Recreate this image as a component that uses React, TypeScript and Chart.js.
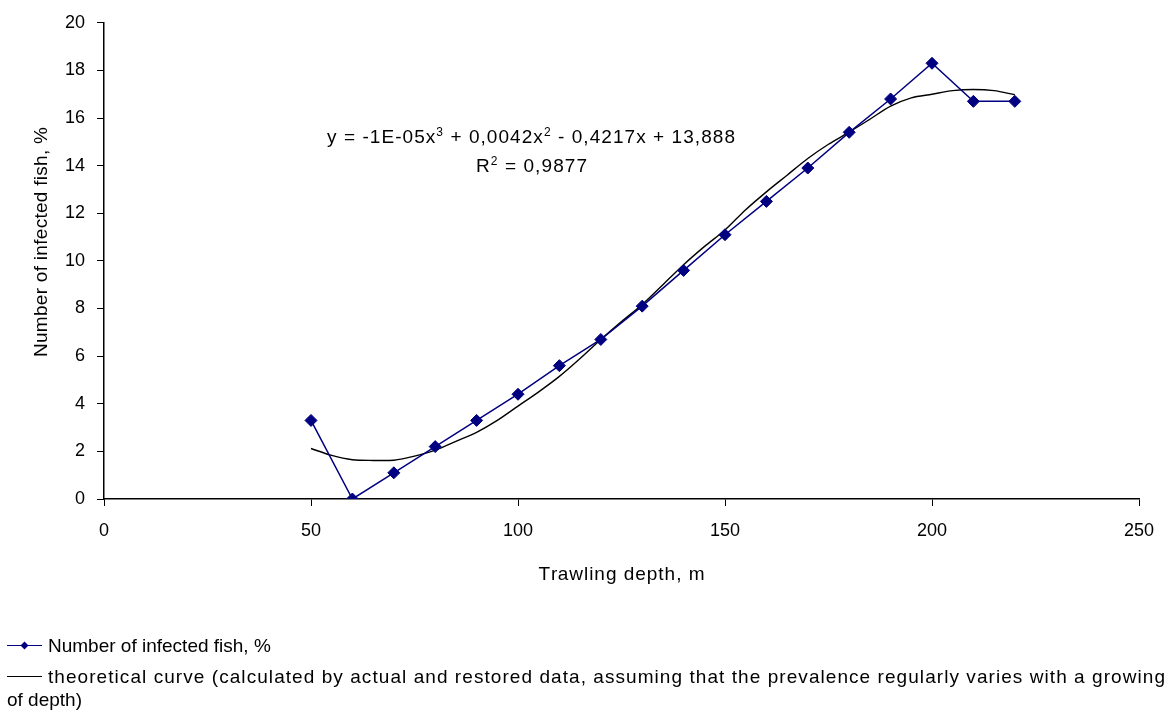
import React, { useEffect, useRef } from "react";
import { Chart, registerables } from "chart.js";

Chart.register(...registerables);

const depths = [50, 60, 70, 80, 90, 100, 110, 120, 130, 140, 150, 160, 170, 180, 190, 200, 210, 220];
const infected = [3.3, 0, 1.1, 2.2, 3.3, 4.4, 5.6, 6.7, 8.1, 9.6, 11.1, 12.5, 13.9, 15.4, 16.8, 18.3, 16.7, 16.7];

const curveDepths = [50, 55, 60, 65, 70, 75, 80, 85, 90, 95, 100, 105, 110, 115, 120, 125, 130, 135, 140, 145, 150, 155, 160, 165, 170, 175, 180, 185, 190, 195, 200, 205, 210, 215, 220];
const curveValues = [2.12, 1.83, 1.65, 1.62, 1.63, 1.8, 2.05, 2.42, 2.8, 3.3, 3.9, 4.5, 5.15, 5.9, 6.7, 7.45, 8.17, 9.0, 9.84, 10.6, 11.3, 12.15, 12.9, 13.6, 14.3, 14.9, 15.41, 15.95, 16.5, 16.85, 17.0, 17.15, 17.2, 17.15, 16.98];

const xTicks = [0, 50, 100, 150, 200, 250];
const yTicks = [0, 2, 4, 6, 8, 10, 12, 14, 16, 18, 20];

const seriesLabel = "Number of infected fish, %";
const curveLabelLine1 = "theoretical curve (calculated by actual and restored data, assuming that the prevalence regularly varies with a growing";
const curveLabelLine2 = "of depth)";
const xTitle = "Trawling depth, m";
const yTitle = "Number of infected fish, %";

const FONT = "'Liberation Sans', Arial, sans-serif";
const NAVY = "#000080";
const BIG = `19px ${FONT}`;
const SMALL = `12px ${FONT}`;

type Seg = { t: string; sup?: boolean };
const eqLine1: Seg[] = [
  { t: "y = -1E-05x" }, { t: "3", sup: true }, { t: " + 0,0042x" }, { t: "2", sup: true }, { t: " - 0,4217x + 13,888" },
];
const eqLine2: Seg[] = [{ t: "R" }, { t: "2", sup: true }, { t: " = 0,9877" }];

// draws segments spread so that the whole run spans targetWidth, starting at left
function drawSpread(ctx: CanvasRenderingContext2D, segs: Seg[], left: number, baseline: number, targetWidth: number | null) {
  ctx.textAlign = "left";
  ctx.textBaseline = "alphabetic";
  let natural = 0;
  let count = 0;
  for (const s of segs) {
    ctx.font = s.sup ? SMALL : BIG;
    natural += ctx.measureText(s.t).width;
    count += s.t.length;
  }
  const extra = targetWidth && count > 1 ? Math.max(0, (targetWidth - natural) / (count - 1)) : 0;
  let x = left;
  for (const s of segs) {
    ctx.font = s.sup ? SMALL : BIG;
    for (let i = 0; i < s.t.length; i++) {
      const ch = s.t[i];
      const before = ctx.measureText(s.t.slice(0, i)).width;
      ctx.fillText(ch, x + before, s.sup ? baseline - 7 : baseline);
      x += extra;
    }
    x += ctx.measureText(s.t).width;
  }
}

const overlayPlugin = {
  id: "overlay",
  afterDraw(chart: any) {
    const ctx: CanvasRenderingContext2D = chart.ctx;
    ctx.save();
    ctx.fillStyle = "#000";
    // regression equation
    drawSpread(ctx, eqLine1, 327, 143, 408);
    drawSpread(ctx, eqLine2, 476, 172, 111);
    // x axis title
    const cx = (chart.chartArea.left + chart.chartArea.right) / 2;
    drawSpread(ctx, [{ t: xTitle }], cx - 83, 580, 166);
    // y axis title
    ctx.save();
    ctx.translate(47, 242);
    ctx.rotate(-Math.PI / 2);
    drawSpread(ctx, [{ t: yTitle }], -115, 0, 230);
    ctx.restore();
    // legend entry 1
    ctx.strokeStyle = NAVY;
    ctx.lineWidth = 1;
    ctx.beginPath();
    ctx.moveTo(7, 645.5);
    ctx.lineTo(42, 645.5);
    ctx.stroke();
    ctx.fillStyle = NAVY;
    ctx.beginPath();
    ctx.moveTo(24.5, 641.5);
    ctx.lineTo(28.5, 645.5);
    ctx.lineTo(24.5, 649.5);
    ctx.lineTo(20.5, 645.5);
    ctx.closePath();
    ctx.fill();
    ctx.fillStyle = "#000";
    drawSpread(ctx, [{ t: seriesLabel }], 48, 652, 217);
    // legend entry 2
    ctx.strokeStyle = "#000";
    ctx.lineWidth = 1;
    ctx.beginPath();
    ctx.moveTo(7, 676.5);
    ctx.lineTo(42, 676.5);
    ctx.stroke();
    drawSpread(ctx, [{ t: curveLabelLine1 }], 48, 683, 1117);
    drawSpread(ctx, [{ t: curveLabelLine2 }], 7, 706, 68);
    ctx.restore();
  },
};

export default function App() {
  const ref = useRef<HTMLCanvasElement>(null);
  useEffect(() => {
    if (!ref.current) return;
    const chart = new Chart(ref.current, {
      type: "scatter",
      data: {
        datasets: [
          {
            label: seriesLabel,
            data: depths.map((d, i) => ({ x: d, y: infected[i] })),
            showLine: true,
            borderColor: NAVY,
            backgroundColor: NAVY,
            borderWidth: 1.5,
            pointStyle: "rectRot",
            pointRadius: 6,
            pointBorderWidth: 1,
            pointBorderColor: NAVY,
            tension: 0,
            order: 1,
          },
          {
            label: curveLabelLine1 + " " + curveLabelLine2,
            data: curveDepths.map((d, i) => ({ x: d, y: curveValues[i] })),
            showLine: true,
            borderColor: "#000",
            borderWidth: 1.4,
            pointRadius: 0,
            tension: 0.3,
            order: 2,
          },
        ],
      },
      options: {
        responsive: false,
        animation: false,
        layout: { padding: { top: 20, right: 36, left: 0, bottom: 0 } },
        plugins: { legend: { display: false }, tooltip: { enabled: false } },
        scales: {
          x: {
            type: "linear",
            min: 0,
            max: 250,
            afterBuildTicks: (s: any) => { s.ticks = xTicks.map((v) => ({ value: v })); },
            afterFit: (s: any) => { s.height = 211; },
            ticks: { color: "#000", font: { family: FONT, size: 18 }, padding: 14, maxRotation: 0 },
            grid: { drawOnChartArea: false, drawTicks: true, tickLength: 7, color: "#000", lineWidth: 1 },
            border: { display: true, color: "#000", width: 1.5 },
          },
          y: {
            type: "linear",
            min: 0,
            max: 20,
            afterBuildTicks: (s: any) => { s.ticks = yTicks.map((v) => ({ value: v })); },
            afterFit: (s: any) => { s.width = 104; },
            ticks: { color: "#000", font: { family: FONT, size: 18 }, padding: 12 },
            grid: { drawOnChartArea: false, drawTicks: true, tickLength: 7, color: "#000", lineWidth: 1 },
            border: { display: true, color: "#000", width: 1.5 },
          },
        },
      },
      plugins: [overlayPlugin],
    } as any);
    return () => chart.destroy();
  }, []);
  return (
    <div style={{ position: "absolute", left: 0, top: 0, width: 1175, height: 710, background: "#fff" }}>
      <canvas ref={ref} width={1175} height={710} style={{ width: 1175, height: 710 }} />
    </div>
  );
}
